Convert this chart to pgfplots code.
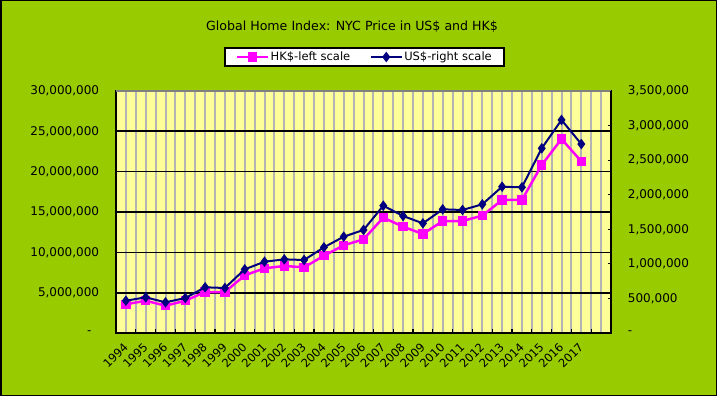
\documentclass[border=0pt]{standalone}
\usepackage{fontspec}
\setmainfont{DejaVu Sans}
\usepackage{pgfplots}
\usepackage{pgfplotstable}
\pgfplotsset{compat=1.18}
\definecolor{bggreen}{HTML}{99CC00}
\definecolor{plotyellow}{HTML}{FFFF99}
\definecolor{gridgray}{HTML}{B4B4B4}
\definecolor{topgray}{HTML}{808080}
\definecolor{hkmag}{HTML}{FF00FF}
\definecolor{usnavy}{HTML}{000080}

\pgfplotstableread{
idx year hk us
0 1994 3560000 467000
1 1995 4000000 516000
2 1996 3390000 444000
3 1997 4000000 506000
4 1998 5080000 661000
5 1999 5080000 651000
6 2000 7150000 921000
7 2001 8020000 1031000
8 2002 8310000 1065000
9 2003 8140000 1056000
10 2004 9580000 1239000
11 2005 10870000 1393000
12 2006 11610000 1490000
13 2007 14300000 1841000
14 2008 13180000 1692000
15 2009 12270000 1586000
16 2010 13880000 1789000
17 2011 13880000 1779000
18 2012 14550000 1861000
19 2013 16490000 2116000
20 2014 16490000 2107000
21 2015 20830000 2671000
22 2016 24050000 3081000
23 2017 21280000 2733000
}\datatable

\begin{document}
\begin{tikzpicture}[font=\fontsize{11.5}{13.5}\selectfont]
\useasboundingbox (0,0) rectangle (717pt,396pt);
\fill[bggreen] (0,0) rectangle (717pt,396pt);
\draw[black, line width=1.5pt] (0.75pt,0.75pt) rectangle (716.25pt,395.25pt);
\begin{axis}[
  at={(116pt,63pt)}, anchor=south west,
  scale only axis, width=495pt, height=242pt,
  xmin=-0.5, xmax=24.5, ymin=0, ymax=30000000,
  axis background/.style={fill=plotyellow},
  axis line style={black, line width=1.4pt},
  tick pos=left, tick align=inside,
  major tick length=0pt, minor tick length=3.5pt,
  tick style={black, line width=1.2pt},
  xtick={0,...,24},
  xticklabels={1994,1995,1996,1997,1998,1999,2000,2001,2002,2003,2004,2005,2006,2007,2008,2009,2010,2011,2012,2013,2014,2015,2016,2017,{}},
  minor xtick={-0.5,0.5,...,24.5},
  xmajorgrids, xminorgrids,
  x grid style={gridgray, line width=2pt},
  ytick={0,5000000,10000000,15000000,20000000,25000000,30000000},
  yticklabels={{-\hphantom{0}},{5,000,000},{10,000,000},{15,000,000},{20,000,000},{25,000,000},{30,000,000}},
  scaled y ticks=false,
  ymajorgrids,
  y grid style={black, line width=1.1pt},
  extra y ticks={5000000,25000000},
  extra y tick labels={},
  extra y tick style={y grid style={black, line width=2pt}},
  xticklabel style={font=\fontsize{11.5}{13}\selectfont, rotate=45, anchor=east, inner sep=0pt},
  xticklabel shift=12pt,
  yticklabel style={font=\fontsize{12}{14}\selectfont, anchor=east, inner sep=0pt, xshift=-16.7pt},
  title={Global Home Index: NYC Price in US\$ and HK\$},
  title style={at={(0.4768,1.2397)}, anchor=center, yshift=0pt, inner sep=0pt, font=\fontsize{12.6}{14}\selectfont},
  legend style={at={(0.502,1.1405)}, anchor=center, draw=black, line width=1.5pt, fill=white,
    legend columns=2, inner xsep=10.5pt, inner ysep=2.6pt,
    nodes={inner sep=1.5pt},
    /tikz/every even column/.append style={column sep=18pt}},
  legend image code/.code={\draw[mark repeat=2,mark phase=2,#1] plot coordinates {(0pt,0pt) (15.5pt,0pt) (31pt,0pt)};},
]
\addplot[hkmag, line width=2.5pt, mark=square*, mark size=4.2pt, mark options={solid, line width=1pt}] table[x=idx,y=hk]{\datatable};
\addlegendentry{HK\$-left scale}
\addlegendimage{usnavy, line width=2pt, mark=diamond*, mark size=4.5pt, mark options={solid, line width=1pt}}
\addlegendentry{US\$-right scale}
\end{axis}
\begin{axis}[
  at={(116pt,63pt)}, anchor=south west,
  scale only axis, width=495pt, height=242pt,
  xmin=-0.5, xmax=24.5, ymin=0, ymax=3500000,
  axis y line*=right, axis x line*=top,
  x axis line style={topgray, line width=2.5pt, -},
  y axis line style={black, line width=1.6pt, -},
  xtick=\empty,
  ytick={0,500000,1000000,1500000,2000000,2500000,3000000,3500000},
  yticklabels={{-},{500,000},{1,000,000},{1,500,000},{2,000,000},{2,500,000},{3,000,000},{3,500,000}},
  scaled y ticks=false,
  tick align=inside, major tick length=3.5pt,
  tick style={black, line width=1.2pt},
  yticklabel style={font=\fontsize{12}{14}\selectfont, anchor=west, inner sep=0pt, xshift=16.7pt},
]
\addplot[usnavy, line width=2pt, mark=diamond*, mark size=4.5pt, mark options={solid, line width=1pt}] table[x=idx,y=us]{\datatable};
\end{axis}
\end{tikzpicture}
\end{document}
